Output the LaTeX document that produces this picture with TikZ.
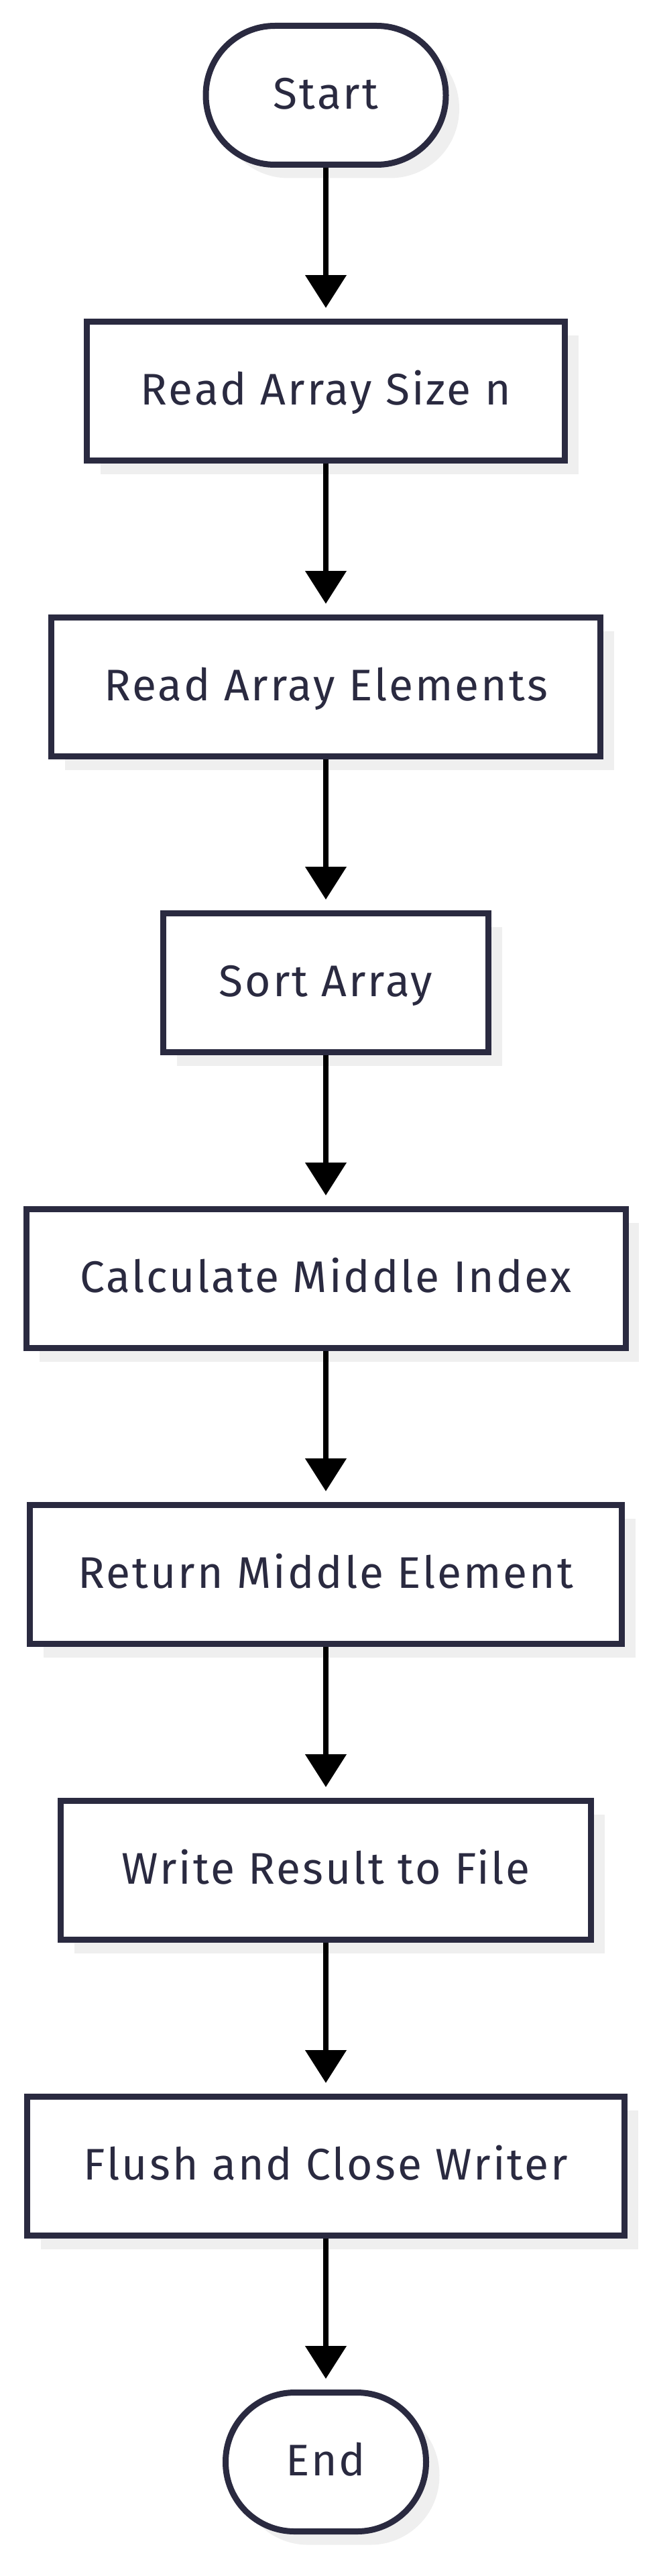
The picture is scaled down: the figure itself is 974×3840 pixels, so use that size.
\documentclass[tikz,border=0pt]{standalone}
\usepackage{fontspec}
\setmainfont{Fira Sans}
\newfontfamily\labelfont[LetterSpace=4.5]{Fira Sans}
\usetikzlibrary{arrows.meta,shadows}
\definecolor{ink}{HTML}{2A2A40}
\definecolor{shade}{HTML}{EFEFEF}
\begin{document}
\begin{tikzpicture}[x=1pt,y=-1pt,
  base/.style={draw=ink, line width=9pt, fill=white, text=ink,
    font=\labelfont\fontsize{66}{80}\selectfont, minimum height=207pt, inner sep=0pt,
    text height=46pt, text depth=5pt,
    general shadow={fill=shade, shadow xshift=20pt, shadow yshift=-20pt}},
  procbox/.style={base, rectangle},
  termbox/.style={base, rectangle, rounded corners=103pt},
  flow/.style={line width=8pt, draw=black, -{Triangle[width=60pt,length=49pt]}, shorten >=16pt}
]
\useasboundingbox (0,0) rectangle (974,3840);
\node[termbox, minimum width=358pt] (start) at (486,142) {Start};
\node[procbox, minimum width=713pt] (size) at (486,583) {Read Array Size n};
\node[procbox, minimum width=819pt] (elems) at (486,1024) {Read Array Elements};
\node[procbox, minimum width=485pt] (sort) at (486,1465) {Sort Array};
\node[procbox, minimum width=894pt] (calc) at (486,1906) {Calculate Middle Index};
\node[procbox, minimum width=883pt] (ret) at (486,2347) {Return Middle Element};
\node[procbox, minimum width=791pt] (write) at (486,2788) {Write Result to File};
\node[procbox, minimum width=891pt] (flush) at (486,3229) {Flush and Close Writer};
\node[termbox, minimum width=299pt] (end) at (486,3670) {End};
\draw[flow] (start) -- (size);
\draw[flow] (size) -- (elems);
\draw[flow] (elems) -- (sort);
\draw[flow] (sort) -- (calc);
\draw[flow] (calc) -- (ret);
\draw[flow] (ret) -- (write);
\draw[flow] (write) -- (flush);
\draw[flow] (flush) -- (end);
\end{tikzpicture}
\end{document}
